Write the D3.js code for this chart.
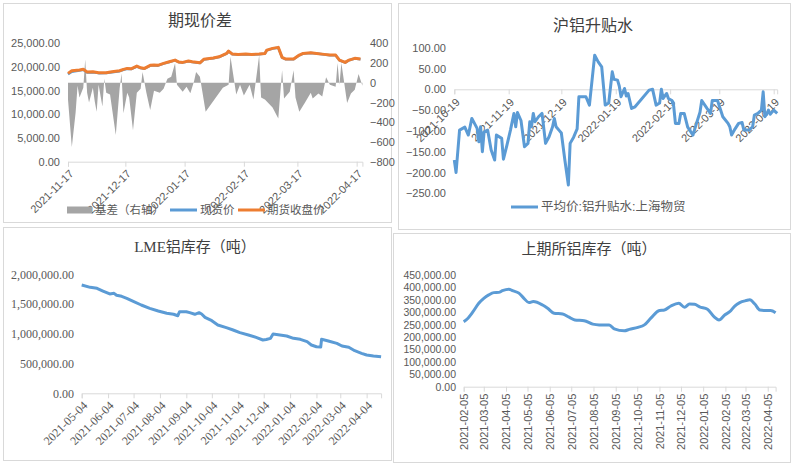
<!DOCTYPE html>
<html><head><meta charset="utf-8">
<script src="https://cdn.jsdelivr.net/npm/d3@7"></script>
<style>body{margin:0;background:#fff}</style>
</head><body>
<svg id="c" width="792" height="464"></svg>
<script>
// ---------- Panel A: 期现价差 ----------
const aTitle = "期现价差";
const aPriceDates = ["2021-11-17","2021-11-19","2021-11-23","2021-11-25","2021-11-27","2021-11-30","2021-12-03","2021-12-07","2021-12-10","2021-12-14","2021-12-16","2021-12-18","2021-12-20","2021-12-23","2021-12-25","2021-12-27","2021-12-30","2022-01-01","2022-01-03","2022-01-06","2022-01-09","2022-01-12","2022-01-14","2022-01-16","2022-01-19","2022-01-21","2022-01-25","2022-01-27","2022-02-01","2022-02-04","2022-02-08","2022-02-09","2022-02-11","2022-02-14","2022-02-18","2022-02-21","2022-02-25","2022-02-28","2022-03-01","2022-03-04","2022-03-07","2022-03-09","2022-03-11","2022-03-15","2022-03-18","2022-03-20","2022-03-24","2022-03-27","2022-03-31","2022-04-03","2022-04-06","2022-04-08","2022-04-11","2022-04-13","2022-04-16","2022-04-19"];
const aSpot = [18450,19000,19250,19400,18850,18900,18700,18720,18900,19120,19420,19620,19560,20100,19760,19640,20260,20340,20280,20700,21040,21400,21000,20920,21200,21060,20850,21560,21840,22100,22820,23300,22680,22620,22680,22620,22680,22820,23500,23880,24080,21980,21620,21630,22460,22820,22950,22830,22620,22470,22470,21420,20930,21420,21780,21640];
const aFutures = [18650,19200,19350,19500,18930,18990,18780,18780,18990,19200,19500,19700,19620,20190,19830,19700,20340,20400,20340,20760,21100,21460,21040,20970,21250,21100,20890,21610,21880,22150,22870,23360,22720,22660,22720,22660,22720,22870,23570,23930,24140,22030,21670,21670,22510,22870,23000,22870,22660,22510,22510,21460,20970,21460,21820,21670];
const aBasisDates = ["2021-11-17","2021-11-19","2021-11-21","2021-11-22","2021-11-23","2021-11-25","2021-11-26","2021-11-27","2021-11-28","2021-11-30","2021-12-01","2021-12-02","2021-12-03","2021-12-05","2021-12-06","2021-12-07","2021-12-09","2021-12-12","2021-12-14","2021-12-15","2021-12-16","2021-12-18","2021-12-19","2021-12-21","2021-12-23","2021-12-25","2021-12-26","2021-12-28","2021-12-30","2022-01-01","2022-01-04","2022-01-06","2022-01-08","2022-01-10","2022-01-12","2022-01-13","2022-01-16","2022-01-18","2022-01-20","2022-01-22","2022-01-23","2022-01-25","2022-01-28","2022-02-06","2022-02-09","2022-02-10","2022-02-13","2022-02-15","2022-02-17","2022-02-20","2022-02-22","2022-02-25","2022-02-26","2022-02-28","2022-03-04","2022-03-07","2022-03-09","2022-03-10","2022-03-13","2022-03-15","2022-03-16","2022-03-18","2022-03-21","2022-03-24","2022-03-25","2022-03-28","2022-03-30","2022-04-01","2022-04-03","2022-04-06","2022-04-07","2022-04-08","2022-04-09","2022-04-12","2022-04-14","2022-04-16","2022-04-18","2022-04-20"];
const aBasis = [-170,-650,-300,-30,-150,-50,237,-100,-200,-50,-190,-294,-20,-240,40,-100,-120,-530,-60,95,-310,-100,-150,-480,-100,-60,110,-100,-277,-80,-100,-60,40,60,197,-20,-90,-40,-105,20,110,60,-294,-50,-20,264,-120,-20,-130,-20,-170,280,-150,-170,-250,-361,128,-160,-90,128,-150,-294,-200,-100,-160,-110,-140,55,-20,-40,200,-20,200,-206,-110,-70,90,-30];
const aTicks = ["2021-11-17","2021-12-17","2022-01-17","2022-02-17","2022-03-17","2022-04-17"];
const aLeftTicks = [0,5000,10000,15000,20000,25000];
const aRightTicks = [-800,-600,-400,-200,0,200,400];
const aLegend = ["基差（右轴）","现货价","期货收盘价"];

// ---------- Panel B: 沪铝升贴水 ----------
const bTitle = "沪铝升贴水";
const bDates = ["2021-10-19","2021-10-20","2021-10-22","2021-10-25","2021-10-27","2021-10-29","2021-11-01","2021-11-02","2021-11-03","2021-11-04","2021-11-05","2021-11-07","2021-11-09","2021-11-11","2021-11-12","2021-11-15","2021-11-16","2021-11-18","2021-11-20","2021-11-22","2021-11-23","2021-11-24","2021-11-26","2021-11-28","2021-11-30","2021-12-01","2021-12-02","2021-12-03","2021-12-04","2021-12-06","2021-12-08","2021-12-10","2021-12-12","2021-12-14","2021-12-15","2021-12-16","2021-12-18","2021-12-19","2021-12-21","2021-12-23","2021-12-24","2021-12-26","2021-12-28","2021-12-29","2022-01-02","2022-01-04","2022-01-07","2022-01-09","2022-01-11","2022-01-13","2022-01-15","2022-01-17","2022-01-18","2022-01-20","2022-01-21","2022-01-22","2022-01-24","2022-01-25","2022-01-26","2022-01-28","2022-01-30","2022-02-07","2022-02-09","2022-02-11","2022-02-13","2022-02-14","2022-02-15","2022-02-17","2022-02-18","2022-02-20","2022-02-21","2022-02-22","2022-02-24","2022-02-25","2022-02-27","2022-03-01","2022-03-04","2022-03-06","2022-03-08","2022-03-09","2022-03-12","2022-03-14","2022-03-15","2022-03-18","2022-03-21","2022-03-24","2022-03-25","2022-03-26","2022-03-28","2022-03-30","2022-04-01","2022-04-02","2022-04-05","2022-04-07","2022-04-08","2022-04-10","2022-04-12","2022-04-13","2022-04-14","2022-04-15","2022-04-16","2022-04-17","2022-04-19","2022-04-21"];
const bValues = [-170,-200,-98,-91,-110,-70,-94,-126,-90,-150,-102,-98,-146,-170,-110,-118,-168,-134,-98,-58,-90,-56,-75,-138,-130,-78,-90,-58,-78,-66,-58,-130,-114,-90,-70,-90,-100,-105,-170,-230,-130,-115,-95,-18,-18,-38,82,66,54,-38,-33,42,24,22,8,-18,2,-16,-10,-46,-42,-2,0,-38,-33,0,-22,-10,-22,-27,-40,-82,-82,-58,-58,-91,-110,-82,-55,-27,-46,-58,-27,-27,-66,-82,-90,-110,-95,-82,-80,-98,-98,-90,-62,-58,-50,-6,-66,-60,-50,-60,-50,-58];
const bTicks = ["2021-10-19","2021-11-19","2021-12-19","2022-01-19","2022-02-19","2022-03-19","2022-04-19"];
const bYTicks = [-250,-200,-150,-100,-50,0,50,100];
const bLegend = "平均价:铝升贴水:上海物贸";

// ---------- Panel C: LME铝库存（吨） ----------
const cTitle = "LME铝库存（吨）";
const cDates = ["2021-05-04","2021-05-14","2021-05-22","2021-05-29","2021-06-06","2021-06-11","2021-06-14","2021-06-20","2021-06-26","2021-07-03","2021-07-13","2021-07-23","2021-08-02","2021-08-12","2021-08-20","2021-08-25","2021-08-27","2021-09-04","2021-09-08","2021-09-14","2021-09-19","2021-09-22","2021-09-26","2021-10-04","2021-10-11","2021-10-21","2021-10-29","2021-11-06","2021-11-16","2021-11-25","2021-12-03","2021-12-07","2021-12-12","2021-12-15","2021-12-23","2021-12-31","2022-01-08","2022-01-16","2022-01-24","2022-01-29","2022-02-04","2022-02-09","2022-02-10","2022-02-18","2022-02-28","2022-03-06","2022-03-14","2022-03-21","2022-03-29","2022-04-04","2022-04-12","2022-04-21"];
const cValues = [1820000,1781000,1765000,1719000,1669000,1680000,1647000,1630000,1597000,1551000,1484000,1428000,1383000,1345000,1328000,1304000,1371000,1371000,1355000,1328000,1355000,1333000,1277000,1220000,1148000,1103000,1064000,1019000,980000,941000,896000,904000,924000,997000,980000,963000,924000,907000,868000,812000,783000,778000,907000,880000,840000,795000,773000,716000,672000,644000,627000,615000];
const cTicks = ["2021-05-04","2021-06-04","2021-07-04","2021-08-04","2021-09-04","2021-10-04","2021-11-04","2021-12-04","2022-01-04","2022-02-04","2022-03-04","2022-04-04"];
const cYTicks = [0,500000,1000000,1500000,2000000];

// ---------- Panel D: 上期所铝库存（吨） ----------
const dTitle = "上期所铝库存（吨）";
const dDates = ["2021-02-05","2021-02-11","2021-02-18","2021-02-26","2021-03-05","2021-03-12","2021-03-19","2021-03-26","2021-03-31","2021-04-09","2021-04-14","2021-04-23","2021-04-30","2021-05-07","2021-05-13","2021-05-26","2021-06-02","2021-06-11","2021-06-23","2021-07-02","2021-07-10","2021-07-23","2021-08-04","2021-08-13","2021-08-27","2021-09-03","2021-09-17","2021-09-24","2021-10-06","2021-10-15","2021-10-24","2021-11-05","2021-11-12","2021-11-21","2021-12-02","2021-12-10","2021-12-17","2021-12-24","2021-12-31","2022-01-11","2022-01-20","2022-01-27","2022-02-04","2022-02-11","2022-02-18","2022-02-25","2022-03-06","2022-03-11","2022-03-18","2022-03-25","2022-04-02","2022-04-09","2022-04-16"];
const dValues = [262000,276000,302000,336000,356000,370000,379000,380000,387000,393000,387000,377000,356000,339000,343000,329000,316000,296000,293000,280000,269000,266000,252000,249000,249000,233000,225000,231000,239000,249000,276000,307000,309000,325000,336000,320000,333000,332000,322000,312000,282000,269000,289000,302000,325000,339000,347000,350000,333000,309000,307000,307000,298000];
const dTicks = ["2021-02-05","2021-03-05","2021-04-05","2021-05-05","2021-06-05","2021-07-05","2021-08-05","2021-09-05","2021-10-05","2021-11-05","2021-12-05","2022-01-05","2022-02-05","2022-03-05","2022-04-05"];
const dYTicks = [0,50000,100000,150000,200000,250000,300000,350000,400000,450000];

// ---------- drawing ----------
const parse = d3.timeParse("%Y-%m-%d");
const fmtDate = d3.timeFormat("%Y-%m-%d");
const svg = d3.select("#c");
const SANS = "'Liberation Sans','Noto Sans CJK SC',sans-serif";
const SERIF = "'Liberation Serif','Noto Sans CJK SC',serif";
const LINEC = "#d9d9d9", TXT = "#595959", TITLEC = "#404040";
const BLUE = "#5B9BD5", ORANGE = "#ED7D31", GRAY = "#A5A5A5";

// panel frames
[[3,3,388,219],[398,3,392,226],[3,227,388,233],[393,233,397,229]].forEach(r=>{
  svg.append("rect").attr("x",r[0]+0.5).attr("y",r[1]+0.5).attr("width",r[2]).attr("height",r[3])
    .attr("fill","#fff").attr("stroke",LINEC).attr("stroke-width",1);
});

function zip(ds, vs){ return ds.map((d,i)=>({date:parse(d), v:vs[i]})); }

function title(txt,x,y,size,font){
  svg.append("text").attr("x",x).attr("y",y).attr("text-anchor","middle").attr("dominant-baseline","central")
    .attr("font-family",font).attr("font-size",size).attr("fill",TITLEC).text(txt);
}

function xAxis(scale, ticks, y0, rot, font, size, dx, dy){
  const g = svg.append("g").attr("transform",`translate(0,${y0})`)
    .call(d3.axisBottom(scale).tickValues(ticks.map(parse)).tickFormat(fmtDate).tickSizeOuter(0).tickSize(5));
  g.select(".domain").attr("stroke",LINEC);
  g.selectAll(".tick line").attr("stroke",LINEC);
  g.selectAll(".tick text").attr("fill",TXT).attr("font-family",font).attr("font-size",size)
    .attr("text-anchor","end").attr("x",0).attr("y",0).attr("dy","0.35em")
    .attr("transform",`translate(${dx},${dy}) rotate(${rot})`);
  return g;
}

function yAxis(scale, ticks, x0, font, size, fmt, right){
  const ax = (right ? d3.axisRight(scale) : d3.axisLeft(scale)).tickValues(ticks).tickFormat(fmt).tickSize(0).tickPadding(0);
  const g = svg.append("g").attr("transform",`translate(${x0},0)`).call(ax);
  g.select(".domain").remove();
  g.selectAll(".tick text").attr("fill",TXT).attr("font-family",font).attr("font-size",size);
  return g;
}

const f2 = d3.format(",.2f");

// ===== Panel A =====
{
  const x = d3.scaleTime().domain([parse("2021-11-17"), parse("2022-04-20")]).range([68, 362.4]);
  const yL = d3.scaleLinear().domain([0,25000]).range([161.7,43.3]);
  const yR = d3.scaleLinear().domain([-800,400]).range([161.7,43.3]);
  const basis = zip(aBasisDates, aBasis);
  svg.append("path").datum(basis).attr("fill",GRAY).attr("stroke","none")
    .attr("d", d3.area().x(d=>x(d.date)).y0(yR(0)).y1(d=>yR(d.v)));
  const spot = zip(aPriceDates, aSpot), fut = zip(aPriceDates, aFutures);
  const line = d3.line().x(d=>x(d.date)).y(d=>yL(d.v));
  svg.append("path").datum(spot).attr("fill","none").attr("stroke",BLUE).attr("stroke-width",2.5).attr("stroke-linejoin","round").attr("d",line);
  svg.append("path").datum(fut).attr("fill","none").attr("stroke",ORANGE).attr("stroke-width",3).attr("stroke-linejoin","round").attr("d",line);
  yAxis(yL, aLeftTicks, 60, SANS, 11, f2, false);
  yAxis(yR, aRightTicks, 370, SANS, 11, d3.format("d"), true);
  xAxis(x, aTicks, 161.7, -45, SANS, 11, 3, 10);
  title(aTitle, 200, 20, 16, SANS);
  // legend
  const ly = 210;
  svg.append("rect").attr("x",67).attr("y",ly-3.5).attr("width",25).attr("height",7).attr("fill",GRAY);
  svg.append("line").attr("x1",170).attr("x2",197).attr("y1",ly).attr("y2",ly).attr("stroke",BLUE).attr("stroke-width",3);
  svg.append("line").attr("x1",238).attr("x2",265).attr("y1",ly).attr("y2",ly).attr("stroke",ORANGE).attr("stroke-width",3);
  [[aLegend[0],95],[aLegend[1],200],[aLegend[2],267]].forEach(([t,xx])=>{
    svg.append("text").attr("x",xx).attr("y",ly).attr("dominant-baseline","central").attr("font-family",SANS)
      .attr("font-size",11.5).attr("fill",TXT).text(t);
  });
}

// ===== Panel B =====
{
  const x = d3.scaleTime().domain([parse("2021-10-19"), parse("2022-04-21")]).range([454.3, 777.2]);
  const y = d3.scaleLinear().domain([-250,100]).range([193.3,47.7]);
  yAxis(y, bYTicks, 446, SANS, 11, d3.format(".2f"), false);
  xAxis(x, bTicks, y(0), -45, SANS, 11, 3, 11);
  svg.append("path").datum(zip(bDates,bValues)).attr("fill","none").attr("stroke",BLUE).attr("stroke-width",3)
    .attr("stroke-linejoin","round").attr("d", d3.line().x(d=>x(d.date)).y(d=>y(d.v)));
  title(bTitle, 593, 25, 16, SANS);
  svg.append("line").attr("x1",511).attr("x2",538).attr("y1",207).attr("y2",207).attr("stroke",BLUE).attr("stroke-width",3);
  svg.append("text").attr("x",541).attr("y",207).attr("dominant-baseline","central").attr("font-family",SANS)
    .attr("font-size",12.5).attr("fill",TXT).text(bLegend);
}

// ===== Panel C =====
{
  const x = d3.scaleTime().domain([parse("2021-05-04"), parse("2022-04-21")]).range([81.7, 381.1]);
  const y = d3.scaleLinear().domain([0,2000000]).range([393.3,274.3]);
  yAxis(y, cYTicks, 74, SERIF, 12, f2, false);
  xAxis(x, cTicks, 393.3, -45, SERIF, 12, 3, 10);
  svg.append("path").datum(zip(cDates,cValues)).attr("fill","none").attr("stroke",BLUE).attr("stroke-width",3)
    .attr("stroke-linejoin","round").attr("d", d3.line().x(d=>x(d.date)).y(d=>y(d.v)));
  title(cTitle, 195, 247, 15, SERIF);
}

// ===== Panel D =====
{
  const x = d3.scaleTime().domain([parse("2021-02-05"), parse("2022-04-16")]).range([463.7, 775.6]);
  const y = d3.scaleLinear().domain([0,450000]).range([386.7,275]);
  yAxis(y, dYTicks, 456, SANS, 10.5, f2, false);
  xAxis(x, dTicks, 386.7, -90, SANS, 11, 0, 7);
  svg.append("path").datum(zip(dDates,dValues)).attr("fill","none").attr("stroke",BLUE).attr("stroke-width",3)
    .attr("stroke-linejoin","round").attr("d", d3.line().curve(d3.curveMonotoneX).x(d=>x(d.date)).y(d=>y(d.v)));
  title(dTitle, 589, 248, 15, SANS);
}
</script>
</body></html>
